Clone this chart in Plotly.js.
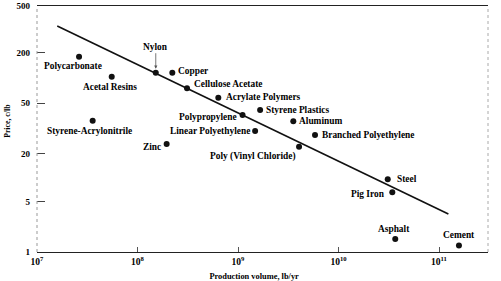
<!DOCTYPE html>
<html>
<head>
<meta charset="utf-8">
<script src="https://cdn.plot.ly/plotly-3.0.1.min.js"></script>
<style>html,body{margin:0;padding:0;background:#fff;}#chart{width:501px;height:281px;}</style>
</head>
<body>
<div id="chart"></div>
<script>
// ---- data ----
const materials = ["Polycarbonate","Acetal Resins","Nylon","Copper","Cellulose Acetate","Acrylate Polymers",
  "Styrene-Acrylonitrile","Polypropylene","Linear Polyethylene","Styrene Plastics","Aluminum",
  "Branched Polyethylene","Zinc","Poly (Vinyl Chloride)","Steel","Pig Iron","Asphalt","Cement"];
const volumeLbPerYr = [2.62e7, 5.54e7, 1.52e8, 2.22e8, 3.11e8, 6.37e8,
  3.58e7, 1.11e9, 1.48e9, 1.66e9, 3.55e9,
  5.84e9, 1.95e8, 4.05e9, 3.09e10, 3.43e10, 3.67e10, 1.58e11];
const priceCentsPerLb = [139, 83.8, 92.7, 92.7, 62.5, 49.3,
  27.6, 31.9, 21.3, 36.1, 27.2,
  19.2, 15.3, 14.3, 6.28, 4.52, 1.39, 1.18];
const trendVolume = [1.59e7, 1.24e11];
const trendPrice = [302, 2.61];
const xTickVals = [1e7, 1e8, 1e9, 1e10, 1e11];
const xTickText = ["10<sup>7</sup>","10<sup>8</sup>","10<sup>9</sup>","10<sup>10</sup>","10<sup>11</sup>"];
const yTickText = ["1","5","20","50","200","500"];
const yTickPos = [1, 3.56, 11.9, 42.8, 155, 500];

// ---- label placement (style) ----
const labelPlace = {
  "Polycarbonate": ["center", -6, -9],
  "Acetal Resins": ["center", -2, -10],
  "Nylon": ["arrow", 0, 26],
  "Copper": ["left", 4, 2],
  "Cellulose Acetate": ["left", 5, 4],
  "Acrylate Polymers": ["left", 6, 1],
  "Styrene-Acrylonitrile": ["center", -3, -10],
  "Polypropylene": ["right", -4, -2],
  "Linear Polyethylene": ["right", -3, 0],
  "Styrene Plastics": ["left", 4, 0],
  "Aluminum": ["left", 4, 0],
  "Branched Polyethylene": ["left", 5, 0],
  "Zinc": ["right", -4, -3],
  "Poly (Vinyl Chloride)": ["right", -1, -10],
  "Steel": ["left", 7, 0],
  "Pig Iron": ["right", -5, -2],
  "Asphalt": ["center", -1, 10],
  "Cement": ["center", 0, 10]
};

const FONT = "Liberation Serif, Times New Roman, serif";
const labelFont = {family: FONT, size: 9.4, color: "#000", weight: "bold"};

const annotations = materials.map((m, i) => {
  const p = labelPlace[m];
  const a = {
    x: Math.log10(volumeLbPerYr[i]), y: Math.log10(priceCentsPerLb[i]),
    xref: "x", yref: "y", text: m, font: labelFont
  };
  if (p[0] === "arrow") {
    Object.assign(a, {showarrow: true, ax: 0, ay: -p[2], arrowhead: 2, arrowsize: 0.8,
      arrowwidth: 0.8, arrowcolor: "#555", standoff: 4});
  } else {
    Object.assign(a, {showarrow: false, xanchor: p[0], yanchor: "middle", xshift: p[1], yshift: p[2]});
  }
  return a;
});

const traces = [
  {x: trendVolume, y: trendPrice, type: "scatter", mode: "lines",
   line: {color: "#111", width: 1.6}, hoverinfo: "skip", showlegend: false},
  {x: volumeLbPerYr, y: priceCentsPerLb, text: materials, type: "scatter", mode: "markers",
   marker: {color: "#111", size: 6}, showlegend: false}
];

const NB = "&nbsp;".repeat(8);
const layout = {
  width: 501, height: 281,
  margin: {l: 37, r: 13, t: 6, b: 29},
  paper_bgcolor: "#fff", plot_bgcolor: "#fff",
  showlegend: false,
  font: {family: FONT, color: "#000"},
  xaxis: {
    type: "log", range: [7, 11.4876],
    tickvals: xTickVals, ticktext: xTickText,
    ticks: "inside", ticklen: 5, tickcolor: "#555", tickwidth: 1,
    showgrid: false, zeroline: false,
    showline: true, mirror: true, linecolor: "#222", linewidth: 1.3,
    tickfont: {family: FONT, size: 9.5, color: "#000", weight: "bold"},
    title: {text: "Production volume, lb/yr" + NB, font: {family: FONT, size: 8.4, color: "#000", weight: "bold"}, standoff: 7}
  },
  yaxis: {
    type: "log", range: [0, Math.log10(500)],
    tickvals: yTickPos, ticktext: yTickText,
    ticks: "inside", ticklen: 8, tickcolor: "#444", tickwidth: 1,
    showgrid: false, zeroline: false, showline: false,
    ticklabelstandoff: 6,
    tickfont: {family: FONT, size: 9, color: "#000", weight: "bold"},
    title: {text: NB + "Price, c/lb", font: {family: FONT, size: 7.8, color: "#000", weight: "bold"}, standoff: 4}
  },
  shapes: [
    {type: "line", xref: "paper", yref: "paper", x0: 0, x1: 0, y0: 0, y1: 1, line: {color: "#999", width: 1, dash: "dot"}},
    {type: "line", xref: "paper", yref: "paper", x0: 1, x1: 1, y0: 0, y1: 1, line: {color: "#aaa", width: 1, dash: "dot"}}
  ],
  annotations: annotations
};

Plotly.newPlot("chart", traces, layout, {displayModeBar: false, staticPlot: true});
</script>
</body>
</html>
